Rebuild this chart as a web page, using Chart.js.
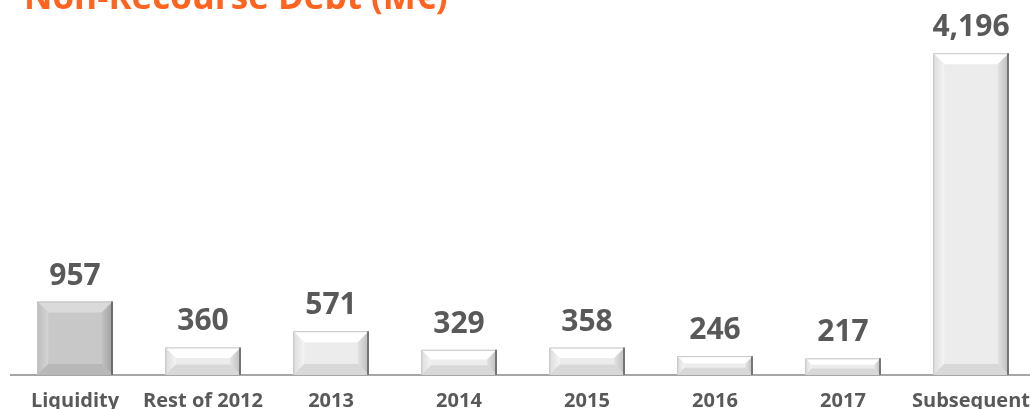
<!DOCTYPE html>
<html lang="en">
<head>
    <meta charset="UTF-8">
    <title>Non-Recourse Debt</title>
    <style>
        * {
            box-sizing: border-box;
        }

        body {
            margin: 0;
            background: #ffffff;
            overflow: hidden;
            font-family: 'Open Sans', sans-serif;
        }

        .wrap {
            position: relative;
            width: 1044px;
            height: 409px;
        }

        .title {
            position: absolute;
            left: 24px;
            top: -22px;
            font-size: 35px;
            line-height: 35px;
            font-weight: bold;
            color: #fe6420;
            white-space: nowrap;
        }
    </style>
</head>
<body>
<div class="wrap">
    <canvas id="debtChart"></canvas>
    <div class="title">Non-Recourse Debt (M€)</div>
</div>

<script src="https://cdn.jsdelivr.net/npm/chart.js"></script>
<script>
    // chart data
    const categories = ['Liquidity', 'Rest of 2012', '2013', '2014', '2015', '2016', '2017', 'Subsequent'];
    const debtValues = [957, 360, 571, 329, 358, 246, 217, 4196];

    // first bar (liquidity) is a darker grey than the maturities
    const faceColors = categories.map((c, i) => i === 0 ? '#c8c8c8' : '#ececec');

    // draws a bevelled look on top of each bar
    const bevelPlugin = {
        id: 'bevel',
        afterDatasetsDraw(chart) {
            const ctx = chart.ctx;
            const meta = chart.getDatasetMeta(0);
            meta.data.forEach((bar, i) => {
                const dark = i === 0;
                const l = bar.x - bar.width / 2;
                const r = bar.x + bar.width / 2;
                const t = bar.y;
                const b = bar.base;
                const h = b - t;
                const bv = Math.min(11, h / 2.6);

                ctx.save();
                // top
                ctx.fillStyle = dark ? '#dadada' : '#ffffff';
                ctx.beginPath();
                ctx.moveTo(l, t); ctx.lineTo(r, t); ctx.lineTo(r - bv, t + bv); ctx.lineTo(l + bv, t + bv);
                ctx.closePath(); ctx.fill();
                // left
                let g = ctx.createLinearGradient(l, 0, l + bv, 0);
                g.addColorStop(0, dark ? '#bdbdbd' : '#dcdcdc');
                g.addColorStop(1, dark ? '#d4d4d4' : '#f4f4f4');
                ctx.fillStyle = g;
                ctx.beginPath();
                ctx.moveTo(l, t); ctx.lineTo(l + bv, t + bv); ctx.lineTo(l + bv, b - bv); ctx.lineTo(l, b);
                ctx.closePath(); ctx.fill();
                // right
                g = ctx.createLinearGradient(r - bv, 0, r, 0);
                g.addColorStop(0, dark ? '#c2c2c2' : '#e2e2e2');
                g.addColorStop(1, dark ? '#a0a0a0' : '#bdbdbd');
                ctx.fillStyle = g;
                ctx.beginPath();
                ctx.moveTo(r, t); ctx.lineTo(r - bv, t + bv); ctx.lineTo(r - bv, b - bv); ctx.lineTo(r, b);
                ctx.closePath(); ctx.fill();
                // bottom
                ctx.fillStyle = dark ? '#b8b8b8' : '#d8d8d8';
                ctx.beginPath();
                ctx.moveTo(l, b); ctx.lineTo(l + bv, b - bv); ctx.lineTo(r - bv, b - bv); ctx.lineTo(r, b);
                ctx.closePath(); ctx.fill();
                // edges
                ctx.strokeStyle = '#c4c4c4';
                ctx.lineWidth = 1;
                ctx.beginPath();
                ctx.moveTo(l + 0.5, b); ctx.lineTo(l + 0.5, t + 0.5); ctx.lineTo(r, t + 0.5);
                ctx.stroke();
                ctx.strokeStyle = '#5a5a5a';
                ctx.lineWidth = 1.5;
                ctx.beginPath();
                ctx.moveTo(r - 0.75, t); ctx.lineTo(r - 0.75, b);
                ctx.stroke();
                ctx.restore();
            });
        }
    };

    // value labels above bars
    const valueLabels = {
        id: 'valueLabels',
        afterDatasetsDraw(chart) {
            const ctx = chart.ctx;
            const meta = chart.getDatasetMeta(0);
            ctx.save();
            ctx.font = 'bold 30px "Open Sans"';
            ctx.fillStyle = '#595959';
            ctx.textAlign = 'center';
            ctx.textBaseline = 'alphabetic';
            meta.data.forEach((bar, i) => {
                ctx.fillText(debtValues[i].toLocaleString('en-US'), bar.x, bar.y - 17);
            });
            ctx.restore();
        }
    };

    const ctx = document.getElementById('debtChart').getContext('2d');
    const debtChart = new Chart(ctx, {
        type: 'bar',
        data: {
            labels: categories,
            datasets: [{
                data: debtValues,
                backgroundColor: faceColors,
                borderWidth: 0,
                barPercentage: 0.59,
                categoryPercentage: 1
            }]
        },
        options: {
            responsive: true,
            maintainAspectRatio: false,
            animation: false,
            layout: {
                padding: { left: 11, right: 0, top: 0, bottom: -18 }
            },
            plugins: {
                legend: { display: false },
                tooltip: { enabled: false }
            },
            scales: {
                x: {
                    grid: { display: false, drawTicks: false },
                    border: { display: true, color: '#a6a6a6', width: 2 },
                    ticks: {
                        padding: 14,
                        color: '#595959',
                        maxRotation: 0,
                        autoSkip: false,
                        font: { family: 'Open Sans', size: 20, weight: 'bold' }
                    }
                },
                y: {
                    display: false,
                    min: 0,
                    max: 4890
                }
            }
        },
        plugins: [bevelPlugin, valueLabels]
    });
</script>
</body>
</html>
